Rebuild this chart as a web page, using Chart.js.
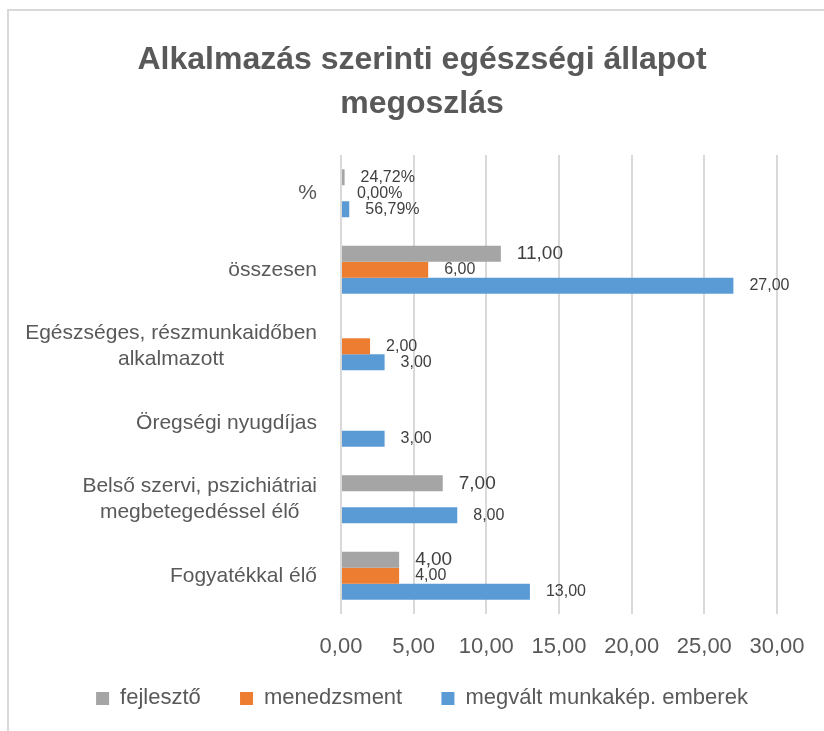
<!DOCTYPE html>
<html>
<head>
<meta charset="utf-8">
<script src="https://cdn.jsdelivr.net/npm/chart.js@4.4.1/dist/chart.umd.min.js"></script>
<style>
  html, body { margin: 0; padding: 0; background: #fff; overflow: hidden; }
  #frame { position: absolute; left: 7px; top: 9px; border-left: 2px solid #d9d9d9; border-top: 2px solid #d9d9d9; }
  canvas { display: block; }
</style>
</head>
<body>
<div id="frame"><canvas id="chart" width="826" height="720"></canvas></div>
<script>
var titleLines = ['Alkalmazás szerinti egészségi állapot', 'megoszlás'];
var categories = [
    '%',
    'összesen',
    ['Egészséges, részmunkaidőben', 'alkalmazott'],
    'Öregségi nyugdíjas',
    ['Belső szervi, pszichiátriai', 'megbetegedéssel élő'],
    'Fogyatékkal élő'
];
var seriesNames = ['fejlesztő', 'menedzsment', 'megvált munkakép. emberek'];
var fejleszto = [0.2472, 11, null, null, 7, 4];
var menedzsment = [0, 6, 2, null, null, 4];
var megvalt = [0.5679, 27, 3, 3, 8, 13];
var xTicks = [0, 5, 10, 15, 20, 25, 30];

var FONT = "'Liberation Sans', Arial, sans-serif";
Chart.defaults.font.family = FONT;
Chart.defaults.color = '#595959';

function comma(v) { return v.toFixed(2).replace('.', ','); }

// category labels: block right aligned, lines centred on each other (like Excel)
var categoryLabels = {
    id: 'categoryLabels',
    afterDraw: function(chart) {
        var ctx = chart.ctx, y = chart.scales.y;
        var right = chart.chartArea.left - 24;
        ctx.save();
        ctx.font = '21px ' + FONT;
        ctx.fillStyle = '#595959';
        ctx.textAlign = 'center';
        ctx.textBaseline = 'middle';
        categories.forEach(function(label, i) {
            var lines = [].concat(label);
            var w = Math.max.apply(null, lines.map(function(l) { return ctx.measureText(l).width; }));
            var cy = y.getPixelForValue(i);
            lines.forEach(function(l, k) {
                ctx.fillText(l, right - w / 2, cy + (k - (lines.length - 1) / 2) * 26);
            });
        });
        ctx.restore();
    }
};

var valueLabels = {
    id: 'valueLabels',
    afterDatasetsDraw: function(chart) {
        var ctx = chart.ctx;
        ctx.save();
        ctx.fillStyle = '#404040';
        ctx.textAlign = 'left';
        ctx.textBaseline = 'middle';
        chart.data.datasets.forEach(function(ds, d) {
            chart.getDatasetMeta(d).data.forEach(function(bar, i) {
                var v = ds.data[i];
                if (v === null || v === undefined) return;
                var pct = categories[i] === '%';
                ctx.font = ((d === 0 && !pct) ? 19 : 16) + 'px ' + FONT;
                var txt = pct ? comma(v * 100) + '%' : comma(v);
                ctx.fillText(txt, bar.x + 16, bar.y);
            });
        });
        ctx.restore();
    }
};

var ctx = document.getElementById('chart').getContext('2d');
var chart = new Chart(ctx, {
    type: 'bar',
    data: {
        labels: categories,
        datasets: [{
            label: seriesNames[0],
            data: fejleszto,
            backgroundColor: '#a5a5a5'
        }, {
            label: seriesNames[1],
            data: menedzsment,
            backgroundColor: '#ed7d31'
        }, {
            label: seriesNames[2],
            data: megvalt,
            backgroundColor: '#5b9bd5'
        }]
    },
    options: {
        indexAxis: 'y',
        responsive: false,
        animation: false,
        devicePixelRatio: 1,
        barPercentage: 1,
        categoryPercentage: 0.627,
        layout: { padding: { left: 0, right: 0, top: 0, bottom: 11.6 } },
        scales: {
            x: {
                min: 0,
                max: 30,
                afterBuildTicks: function(scale) {
                    scale.ticks = xTicks.map(function(v) { return { value: v }; });
                },
                afterFit: function(scale) { scale.height = 46.4; },
                ticks: {
                    padding: 20,
                    maxRotation: 0,
                    font: { size: 22 },
                    color: '#595959',
                    callback: function(v) { return comma(v); }
                },
                grid: { color: '#d9d9d9', lineWidth: 2, drawTicks: false },
                border: { display: false }
            },
            y: {
                ticks: { display: false },
                grid: { display: false },
                border: { display: false },
                afterFit: function(scale) { scale.width = 332; }
            },
            yr: {
                type: 'linear',
                position: 'right',
                ticks: { display: false },
                grid: { display: false },
                border: { display: false },
                afterFit: function(scale) { scale.width = 58; }
            }
        },
        plugins: {
            title: {
                display: true,
                text: titleLines,
                color: '#595959',
                font: { size: 32, weight: 'bold', lineHeight: 1.36 },
                padding: { top: 27.5, bottom: 29.5 }
            },
            legend: {
                position: 'bottom',
                labels: {
                    boxWidth: 13,
                    boxHeight: 13,
                    padding: 27,
                    color: '#595959',
                    font: { size: 22 },
                    generateLabels: function(c) {
                        var items = Chart.defaults.plugins.legend.labels.generateLabels(c);
                        items.forEach(function(it, i) {
                            it.lineWidth = 0;
                            if (i < items.length - 1) it.text = it.text + '  ';
                        });
                        return items;
                    }
                }
            },
            tooltip: { enabled: false }
        }
    },
    plugins: [categoryLabels, valueLabels]
});
</script>
</body>
</html>
